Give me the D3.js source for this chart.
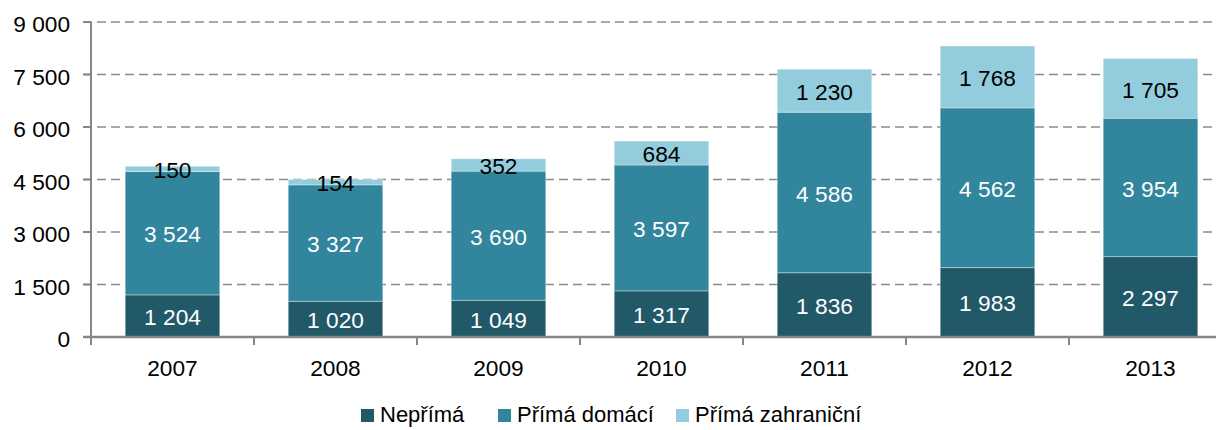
<!DOCTYPE html>
<html>
<head>
<meta charset="utf-8">
<script src="https://cdn.jsdelivr.net/npm/d3@7"></script>
<style>
  body { margin: 0; background: #fff; }
  text { font-family: "Liberation Sans", Arial, sans-serif; }
</style>
</head>
<body>
<svg id="chart" width="1216" height="430"></svg>
<script>
const years = ['2007', '2008', '2009', '2010', '2011', '2012', '2013'];
const neprima = [1204, 1020, 1049, 1317, 1836, 1983, 2297];
const primaDomaci = [3524, 3327, 3690, 3597, 4586, 4562, 3954];
const primaZahranicni = [150, 154, 352, 684, 1230, 1768, 1705];
const seriesNames = ['Nepřímá', 'Přímá domácí', 'Přímá zahraniční'];
const yTicks = [0, 1500, 3000, 4500, 6000, 7500, 9000];

const colors = ['#215968', '#31859c', '#93cddd'];
const labelColors = ['#fff', '#fff', '#000'];
const fontSize = 22.7;

const svg = d3.select('#chart');

const x = d3.scaleBand()
  .domain(years)
  .range([91, 1232])
  .paddingInner(0.42)
  .paddingOuter(0.21);

const y = d3.scaleLinear()
  .domain([0, 9000])
  .range([337, 22]);

const fmt = v => d3.format(',')(v).replace(/,/g, ' ');

// gridlines
svg.append('g')
  .selectAll('line')
  .data(yTicks.filter(d => d > 0))
  .join('line')
    .attr('x1', 83)
    .attr('x2', 1216)
    .attr('y1', d => y(d))
    .attr('y2', d => y(d))
    .attr('stroke', '#8c8c8c')
    .attr('stroke-width', 1.5)
    .attr('stroke-dasharray', '9,5');

const table = years.map((yr, i) => ({
  year: yr,
  'Nepřímá': neprima[i],
  'Přímá domácí': primaDomaci[i],
  'Přímá zahraniční': primaZahranicni[i],
}));

const stacked = d3.stack().keys(seriesNames)(table);

const layers = svg.append('g')
  .selectAll('g')
  .data(stacked)
  .join('g')
    .attr('fill', (d, i) => colors[i]);

layers.selectAll('rect')
  .data(d => d)
  .join('rect')
    .attr('x', d => x(d.data.year))
    .attr('width', x.bandwidth())
    .attr('y', d => y(d[1]))
    .attr('height', d => y(d[0]) - y(d[1]))
    .attr('stroke', '#fff')
    .attr('stroke-opacity', 0.35)
    .attr('stroke-width', 1);

// value labels
stacked.forEach((layer, i) => {
  svg.append('g')
    .selectAll('text')
    .data(layer)
    .join('text')
      .attr('x', d => x(d.data.year) + x.bandwidth() / 2)
      .attr('y', d => y((d[0] + d[1]) / 2) + 1)
      .attr('dy', '0.36em')
      .attr('text-anchor', 'middle')
      .attr('font-size', fontSize)
      .attr('fill', labelColors[i])
      .text(d => fmt(d[1] - d[0]));
});

// y axis
svg.append('line')
  .attr('x1', 91).attr('x2', 91)
  .attr('y1', 22).attr('y2', 339)
  .attr('stroke', '#868686')
  .attr('stroke-width', 2);

svg.append('g')
  .selectAll('line')
  .data(yTicks)
  .join('line')
    .attr('x1', 83)
    .attr('x2', 91)
    .attr('y1', d => y(d))
    .attr('y2', d => y(d))
    .attr('stroke', '#868686')
    .attr('stroke-width', 2);

svg.append('g')
  .selectAll('text')
  .data(yTicks)
  .join('text')
    .attr('x', 70)
    .attr('y', d => y(d) + 2)
    .attr('dy', '0.36em')
    .attr('text-anchor', 'end')
    .attr('font-size', fontSize)
    .attr('fill', '#000')
    .text(fmt);

// x axis
svg.append('line')
  .attr('x1', 83).attr('x2', 1216)
  .attr('y1', 337).attr('y2', 337)
  .attr('stroke', '#868686')
  .attr('stroke-width', 2.5);

const bounds = d3.range(years.length + 1).map(i => x.range()[0] + i * x.step());
svg.append('g')
  .selectAll('line')
  .data(bounds)
  .join('line')
    .attr('x1', d => d)
    .attr('x2', d => d)
    .attr('y1', 337)
    .attr('y2', 345)
    .attr('stroke', '#868686')
    .attr('stroke-width', 2);

svg.append('g')
  .selectAll('text')
  .data(years)
  .join('text')
    .attr('x', d => x(d) + x.bandwidth() / 2)
    .attr('y', 368)
    .attr('dy', '0.36em')
    .attr('text-anchor', 'middle')
    .attr('font-size', fontSize)
    .attr('fill', '#000')
    .text(d => d);

// legend
const legendX = [361, 498, 676];
const legend = svg.append('g')
  .selectAll('g')
  .data(seriesNames)
  .join('g')
    .attr('transform', (d, i) => `translate(${legendX[i]},409)`);

legend.append('rect')
  .attr('x', 0)
  .attr('y', 0)
  .attr('width', 13)
  .attr('height', 13)
  .attr('fill', (d, i) => colors[i]);

legend.append('text')
  .attr('x', 19)
  .attr('y', 13)
  .attr('font-size', 22)
  .attr('fill', '#000')
  .text(d => d);
</script>
</body>
</html>
